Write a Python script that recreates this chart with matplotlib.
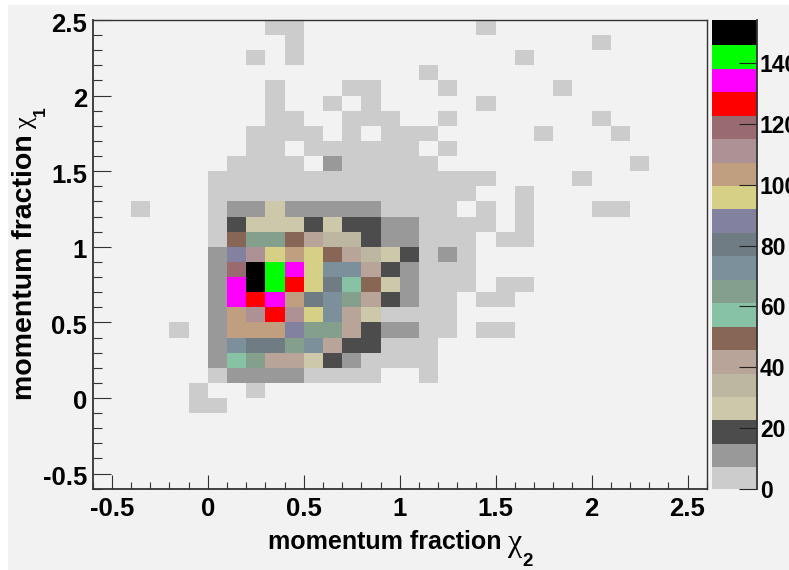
import numpy as np
import matplotlib
matplotlib.use("Agg")
import matplotlib.pyplot as plt
from matplotlib.colors import ListedColormap, BoundaryNorm
from matplotlib.cm import ScalarMappable
from matplotlib.patches import Rectangle
from matplotlib.ticker import MultipleLocator
from matplotlib.transforms import ScaledTranslation

plt.rcParams['font.family'] = ['Liberation Sans', 'DejaVu Sans']
plt.rcParams['font.weight'] = 'bold'

# Palette of the histogram, lowest bin first
level_colors = ['#cccccc', '#999999', '#4c4c4c', '#cdc8a9', '#bdb6a0', '#b8a498', '#886655',
                '#88c2a5', '#84a08c', '#7c909c', '#6f7c84', '#8282a0', '#d5d085', '#bf9f80',
                '#ad9194', '#996b70', '#ff0000', '#ff00ff', '#00ff00', '#000000']
z_max = 154.2
z_ticks = [0, 20, 40, 60, 80, 100, 120, 140]
x_ticks = [-0.5, 0, 0.5, 1, 1.5, 2, 2.5]
y_ticks = [-0.5, 0, 0.5, 1, 1.5, 2, 2.5]
tick_labels = ['-0.5', '0', '0.5', '1', '1.5', '2', '2.5']
x_bin_edges = [-0.6 + 0.1 * k for k in range(33)]
y_bin_edges = [-0.6 + 0.1 * k for k in range(32)]

# Counts: rows run from chi1 = -0.6 (first) up to 2.5 (last), columns from chi2 = -0.6 to 2.6
counts = [
 [0]*32,
 [0]*32,
 [0]*32,
 [0]*32,
 [0]*32,
 [0,0,0,0,0,4,4,0,0,0,0,0,0,0,0,0,0,0,0,0,0,0,0,0,0,0,0,0,0,0,0,0],
 [0,0,0,0,0,4,0,0,4,0,0,0,0,0,0,0,0,0,0,0,0,0,0,0,0,0,0,0,0,0,0,0],
 [0,0,0,0,0,0,4,12,12,12,12,4,4,4,4,0,0,4,0,0,0,0,0,0,0,0,0,0,0,0,0,0],
 [0,0,0,0,0,0,12,58,65,42,42,27,19,12,4,4,4,4,0,0,0,0,0,0,0,0,0,0,0,0,0,0],
 [0,0,0,0,0,0,12,73,81,81,65,73,42,19,19,4,4,4,0,0,0,0,0,0,0,0,0,0,0,0,0,0],
 [0,0,0,0,4,0,12,104,104,104,89,65,65,42,19,12,12,4,4,0,4,4,0,0,0,0,0,0,0,0,0,0],
 [0,0,0,0,0,0,12,104,112,127,112,96,73,42,27,4,4,4,4,0,0,0,0,0,0,0,0,0,0,0,0,0],
 [0,0,0,0,0,0,12,135,127,135,104,81,73,65,42,19,12,4,4,0,4,4,0,0,0,0,0,0,0,0,0,0],
 [0,0,0,0,0,0,12,135,150,143,127,96,81,58,50,27,12,4,4,4,0,4,4,0,0,0,0,0,0,0,0,0],
 [0,0,0,0,0,0,12,119,150,143,135,96,73,73,42,19,12,4,4,4,0,0,0,0,0,0,0,0,0,0,0,0],
 [0,0,0,0,0,0,12,89,112,96,104,96,50,42,35,27,19,4,12,4,0,0,0,0,0,0,0,0,0,0,0,0],
 [0,0,0,0,0,0,4,50,65,65,50,42,35,35,19,12,12,4,4,4,0,4,4,0,0,0,0,0,0,0,0,0],
 [0,0,0,0,0,0,4,19,27,27,27,19,27,19,19,12,12,4,4,4,4,0,4,0,0,0,0,0,0,0,0,0],
 [0,0,4,0,0,0,4,12,12,27,12,12,12,12,12,4,4,4,4,0,4,0,4,0,0,0,4,4,0,0,0,0],
 [0,0,0,0,0,0,4,4,4,4,4,4,4,4,4,4,4,4,4,4,0,0,4,0,0,0,0,0,0,0,0,0],
 [0,0,0,0,0,0,4,4,4,4,4,4,4,4,4,4,4,4,4,4,4,0,0,0,0,4,0,0,0,0,0,0],
 [0,0,0,0,0,0,0,4,4,4,4,0,12,4,4,4,4,4,0,0,0,0,0,0,0,0,0,0,4,0,0,0],
 [0,0,0,0,0,0,0,0,4,4,0,4,4,4,4,4,4,0,4,0,0,0,0,0,0,0,0,0,0,0,0,0],
 [0,0,0,0,0,0,0,0,4,4,4,4,0,4,0,4,4,4,0,0,0,0,0,4,0,0,0,4,0,0,0,0],
 [0,0,0,0,0,0,0,0,0,4,4,0,0,4,4,4,0,0,4,0,0,0,0,0,0,0,4,0,0,0,0,0],
 [0,0,0,0,0,0,0,0,0,4,0,0,4,0,4,0,0,0,0,0,4,0,0,0,0,0,0,0,0,0,0,0],
 [0,0,0,0,0,0,0,0,0,4,0,0,0,4,4,0,0,0,4,0,0,0,0,0,4,0,0,0,0,0,0,0],
 [0,0,0,0,0,0,0,0,0,0,0,0,0,0,0,0,0,4,0,0,0,0,0,0,0,0,0,0,0,0,0,0],
 [0,0,0,0,0,0,0,0,4,0,4,0,0,0,0,0,0,0,0,0,0,0,4,0,0,0,0,0,0,0,0,0],
 [0,0,0,0,0,0,0,0,0,0,4,0,0,0,0,0,0,0,0,0,0,0,0,0,0,0,4,0,0,0,0,0],
 [0,0,0,0,0,0,0,0,0,4,4,0,0,0,0,0,0,0,0,0,4,0,0,0,0,0,0,0,0,0,0,0],
]

W, H = 789, 570
fig = plt.figure(figsize=(W / 100, H / 100), dpi=100, facecolor='white')


def px_axes(x0, y0, x1, y1):
    return fig.add_axes([x0 / W, 1 - y1 / H, (x1 - x0) / W, (y1 - y0) / H])


def px_text(x, y, s, **kw):
    kw.setdefault('va', 'baseline')
    kw.setdefault('ha', 'left')
    return fig.text(x / W, 1 - y / H, s, rotation_mode='anchor', **kw)


fig.add_artist(Rectangle((8 / W, 0.5 / H), (W - 8) / W, (H - 5.5) / H, transform=fig.transFigure,
                         facecolor='#f2f2f2', edgecolor='none', zorder=-5))

edge_color = '#333333'
n = len(level_colors)
boundaries = [z_max * k / n for k in range(n + 1)]
cmap = ListedColormap(level_colors)
norm = BoundaryNorm(boundaries, n)

ax = px_axes(92.7, 20, 706.7, 488.7)
ax.set_facecolor('none')
ax.pcolormesh(x_bin_edges, y_bin_edges, np.ma.masked_equal(np.array(counts), 0), cmap=cmap, norm=norm)
ax.set_xlim(-0.6, 2.6)
ax.set_ylim(-0.6, 2.5)
for s in ax.spines.values():
    s.set_linewidth(1.0)
    s.set_color(edge_color)
ax.spines['left'].set_linewidth(1.3)
ax.spines['bottom'].set_linewidth(1.3)
ax.set_xticks(x_ticks, tick_labels)
ax.set_yticks(y_ticks, tick_labels)
ax.xaxis.set_minor_locator(MultipleLocator(0.1))
ax.yaxis.set_minor_locator(MultipleLocator(0.1))
ax.tick_params(axis='x', which='major', direction='in', length=10, width=0.8, color=edge_color,
               labelsize=18.5, pad=6)
ax.tick_params(axis='x', which='minor', direction='in', length=4.7, width=0.8, color=edge_color)
ax.tick_params(axis='y', which='major', direction='in', length=13, width=0.8, color=edge_color,
               labelsize=18.5, pad=4)
ax.tick_params(axis='y', which='minor', direction='in', length=6.5, width=0.8, color=edge_color)
down = ScaledTranslation(0, -2 / 100, fig.dpi_scale_trans)
for lab in ax.get_yticklabels():
    lab.set_transform(lab.get_transform() + down)

# x axis title: text, chi and subscript
px_text(268, 549, 'momentum fraction', fontsize=18, fontweight='bold')
px_text(507.5, 550.5, '\u03c7', fontsize=23, fontweight='normal', family='Liberation Serif')
px_text(522, 566, '2', fontsize=13.5, fontweight='bold')
# y axis title
px_text(32.5, 400, 'momentum fraction', fontsize=20.5, fontweight='bold', rotation=90)
px_text(32, 128.5, '\u03c7', fontsize=19, fontweight='normal', family='Liberation Serif', rotation=90)
px_text(45, 115.5, '1', fontsize=12.5, fontweight='bold', rotation=90)

cax = px_axes(712, 20, 756.5, 488.7)
cb = fig.colorbar(ScalarMappable(norm=norm, cmap=cmap), cax=cax, ticks=z_ticks, spacing='proportional',
                  drawedges=False)
cb.solids.set_edgecolor('face')
cb.outline.set_visible(False)
cb.set_ticks(z_ticks, labels=[str(t) for t in z_ticks])
cax.minorticks_off()
cax.tick_params(axis='y', which='major', direction='in', length=13, width=0.8, color='#222222',
                labelsize=16.5, pad=2.5)
cax.axvline(1, color=edge_color, lw=1.3, clip_on=False)

fig.savefig('out.png', dpi=100, facecolor='white')
